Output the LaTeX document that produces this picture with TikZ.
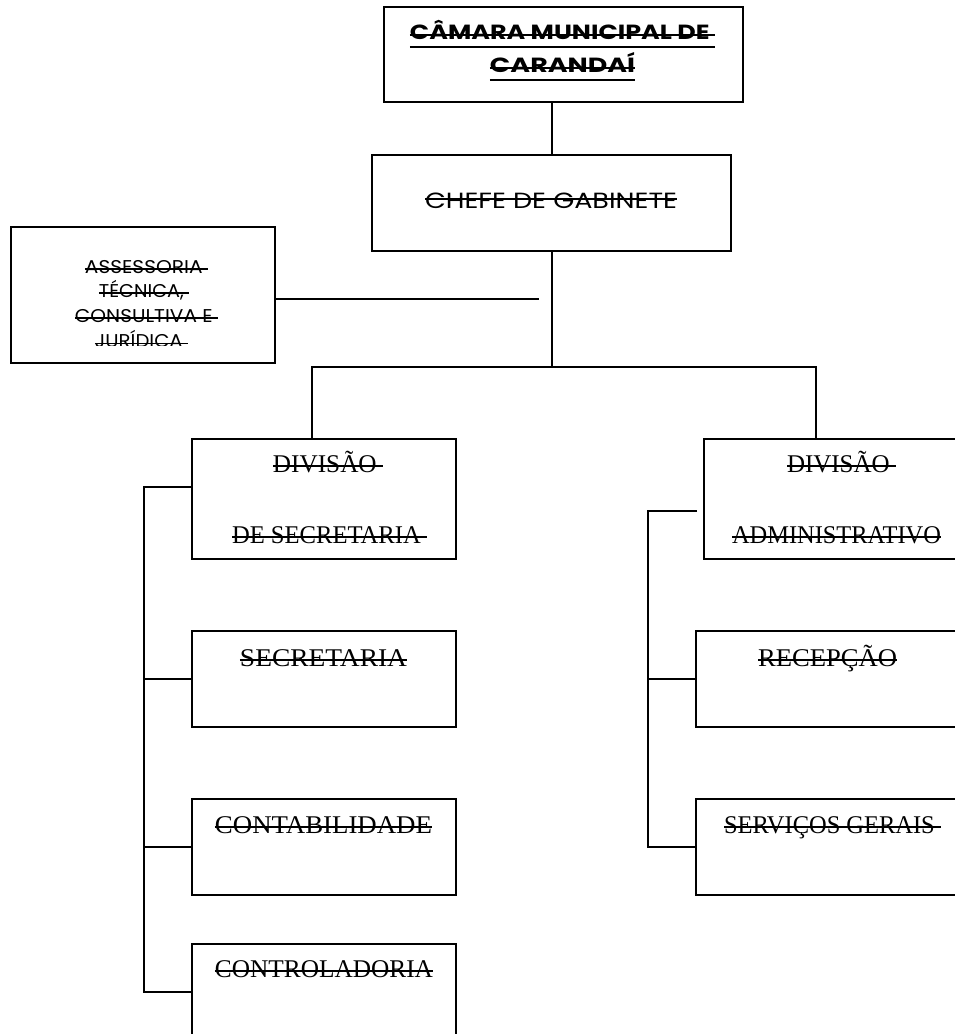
\documentclass[tikz,border=0pt]{standalone}
\usepackage{fontspec}
\setmainfont{Liberation Serif}
\newfontfamily\gothic{Poppins}
\usepackage{graphicx}
\newsavebox\stkbox
% #1 raise of rule bottom, #2 rule thickness, #3 text
\newcommand\stk[3]{\sbox\stkbox{#3}\rlap{\usebox\stkbox}\rule[#1]{\wd\stkbox}{#2}}
% underlined and struck
\newcommand\ustk[1]{\sbox\stkbox{#1}\rlap{\usebox\stkbox}\rlap{\rule[3pt]{\wd\stkbox}{1.8pt}}\rule[-8.5pt]{\wd\stkbox}{1.8pt}}
\newcommand\fitw[2]{\resizebox{#1pt}{\height}{#2}}
\begin{document}
\begin{tikzpicture}[x=1pt,y=-1pt,
  box/.style={draw, line width=1.6pt, inner sep=0pt, outer sep=0pt},
  conn/.style={line width=1.6pt},
  edgemark/.style={line width=2.3pt},
  txt/.style={inner sep=0pt, anchor=base},
  toptxt/.style={txt, font=\gothic\bfseries\fontsize{20.5}{20.5}\selectfont},
  gtxt/.style={txt, font=\gothic\fontsize{22}{22}\selectfont},
  atxt/.style={txt, font=\gothic\fontsize{18.5}{18.5}\selectfont},
  stxt/.style={txt, font=\fontsize{25.5}{25.5}\selectfont}]
\path[fill=white, use as bounding box] (0,0) rectangle (955,1034);

% boxes
\node[box, minimum width=359pt, minimum height=95pt] (cam) at (563.5,54.5) {};
\node[box, minimum width=359pt, minimum height=96pt] (chefe) at (551.5,203) {};
\node[box, minimum width=264pt, minimum height=136pt] (asses) at (143,295) {};
\node[box, minimum width=264pt, minimum height=120pt] (divsec) at (324,499) {};
\node[box, minimum width=264pt, minimum height=96pt] (secr) at (324,679) {};
\node[box, minimum width=264pt, minimum height=96pt] (contab) at (324,847) {};
\node[box, minimum width=264pt, minimum height=110pt] (control) at (324,999) {};
\node[box, minimum width=271pt, minimum height=120pt] (divadm) at (839.5,499) {};
\node[box, minimum width=279pt, minimum height=96pt] (recep) at (835.5,679) {};
\node[box, minimum width=279pt, minimum height=96pt] (serv) at (835.5,847) {};

% texts
\node[toptxt] (t1) at (562.5,39) {\fitw{305}{\ustk{CÂMARA MUNICIPAL DE\ }}};
\node[toptxt] (t2) at (562.5,72) {\fitw{145}{\ustk{CARANDAÍ}}};
\node[gtxt] (t3) at (551,208) {\fitw{252}{\stk{8.2pt}{1.6pt}{CHEFE DE GABINETE}}};
\node[atxt] (a1) at (146.5,273) {\fitw{123}{\stk{3.4pt}{1.3pt}{ASSESSORIA\ }}};
\node[atxt] (a2) at (144,297) {\fitw{90}{\stk{3.4pt}{1.3pt}{TÉCNICA,\ }}};
\node[atxt] (a3) at (146.5,322) {\fitw{143}{\stk{3.4pt}{1.3pt}{CONSULTIVA E\ }}};
\begin{scope}
\clip (0,0) rectangle (300,345.5);
\node[atxt] (a4) at (141.5,347) {\fitw{93}{\stk{2.6pt}{1.3pt}{JURÍDICA\ }}};
\end{scope}
\node[stxt] (s1) at (328,472) {\fitw{110}{\stk{5pt}{1.6pt}{DIVISÃO\ }}};
\node[stxt] (s2) at (329.5,543) {\fitw{195}{\stk{5pt}{1.6pt}{DE SECRETARIA\ }}};
\node[stxt] (s3) at (323.5,666) {\fitw{167}{\stk{5.5pt}{1.6pt}{SECRETARIA}}};
\node[stxt] (s4) at (323.5,833) {\fitw{217}{\stk{5.5pt}{1.6pt}{CONTABILIDADE}}};
\node[stxt] (s5) at (324,977) {\fitw{218}{\stk{5.5pt}{1.6pt}{CONTROLADORIA}}};
\node[stxt] (s6) at (841.5,472) {\fitw{109}{\stk{5pt}{1.6pt}{DIVISÃO\ }}};
\node[stxt] (s7) at (836.5,543) {\fitw{209}{\stk{5pt}{1.6pt}{ADMINISTRATIVO}}};
\node[stxt] (s8) at (827.5,666) {\fitw{139}{\stk{5.5pt}{1.6pt}{RECEPÇÃO}}};
\node[stxt] (s9) at (832.5,833) {\fitw{217}{\stk{5.5pt}{1.6pt}{SERVIÇOS GERAIS\ }}};

% connector coordinates
\coordinate (busM) at (552,367);
\coordinate (busL) at (312,367);
\coordinate (busR) at (816,367);
\coordinate (aEnd) at (539,299);
\coordinate (l1) at (144,487);
\coordinate (l4) at (144,992);
\coordinate (r1) at (648,511);
\coordinate (r1e) at (697,511);
\coordinate (r3) at (648,847);

% connectors
\draw[conn] (cam.south -| busM) -- (chefe.north -| busM);
\draw[conn] (chefe.south -| busM) -- (busM);
\draw[conn] (divsec.north -| busL) -- (busL) -- (busR) -- (divadm.north -| busR);
\draw[conn] (asses.east |- aEnd) -- (aEnd);
\draw[conn] (divsec.west |- l1) -- (l1) -- (l4) -- (control.west |- l4);
\draw[conn] (l1 |- secr.west) -- (secr.west);
\draw[conn] (l1 |- contab.west) -- (contab.west);
\draw[conn] (r1e) -- (r1) -- (r3) -- (serv.west);
\draw[conn] (r1 |- recep.west) -- (recep.west);

% small thick marks on box edges
\draw[edgemark] (337,439) -- (360,439);
\draw[edgemark] (337,559) -- (360,559);
\draw[edgemark] (335,799) -- (360,799);
\draw[edgemark] (383,895) -- (408,895);
\end{tikzpicture}
\end{document}
